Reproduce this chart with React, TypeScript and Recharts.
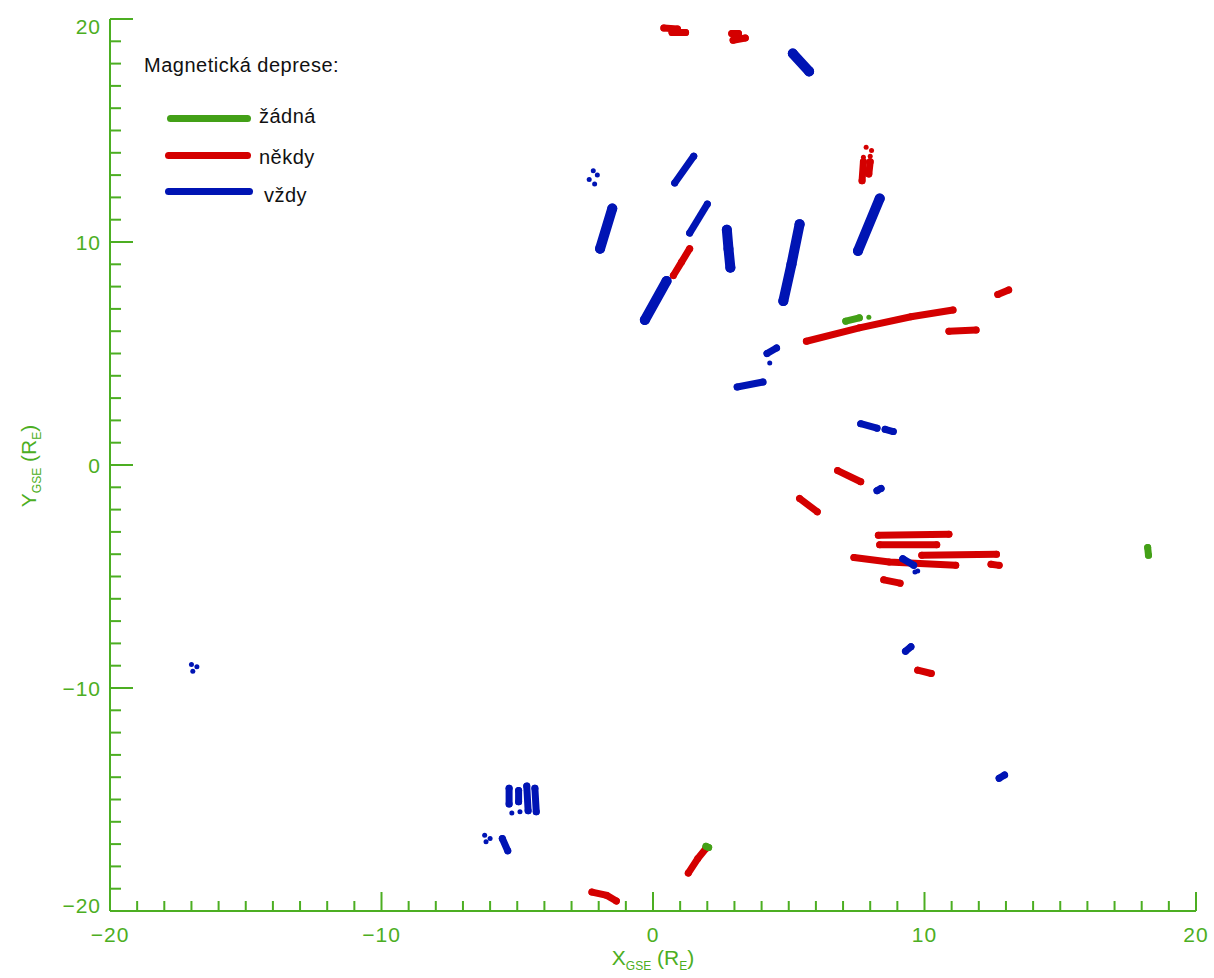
import React from "react";
import { ComposedChart, Scatter, XAxis, YAxis, Legend } from "recharts";

// tracks are lists of [x, y] points in R_E
const zadnaTracks = [
  [[7.1, 6.45], [7.6, 6.6]],
  [[18.22, -3.7], [18.25, -4.05]],
  [[1.95, -17.1], [2.05, -17.15]],
];
const zadnaDots = [[7.95, 6.62]];

const nekdyTracks = [
  [[0.4, 19.6], [0.9, 19.55]],
  [[0.7, 19.4], [1.2, 19.4]],
  [[2.9, 19.35], [3.15, 19.35]],
  [[2.95, 19.05], [3.4, 19.15]],
  [[7.75, 13.6], [7.7, 12.75]],
  [[8.0, 13.6], [7.95, 13.05]],
  [[0.75, 8.5], [1.05, 9.1], [1.35, 9.7]],
  [[12.7, 7.65], [13.1, 7.85]],
  [[5.65, 5.55], [7.6, 6.15], [9.5, 6.65], [11.05, 6.95]],
  [[10.9, 6.0], [11.9, 6.05]],
  [[6.8, -0.25], [7.65, -0.75]],
  [[5.4, -1.5], [6.05, -2.1]],
  [[8.3, -3.15], [10.9, -3.1]],
  [[8.35, -3.58], [10.45, -3.58]],
  [[9.9, -4.05], [12.65, -4.0]],
  [[7.4, -4.15], [8.7, -4.35], [11.15, -4.5]],
  [[12.45, -4.45], [12.75, -4.5]],
  [[8.5, -5.15], [9.1, -5.3]],
  [[9.75, -9.2], [10.25, -9.35]],
  [[1.3, -18.3], [1.65, -17.65], [1.95, -17.2]],
  [[-2.25, -19.15], [-1.7, -19.3], [-1.35, -19.55]],
];
const nekdyDots = [[7.85, 14.25], [8.05, 14.1], [7.75, 13.8], [8.0, 13.85]];

const vzdyBands = [
  [[5.15, 18.45], [5.75, 17.65]],
  [[-1.95, 9.7], [-1.5, 11.5]],
  [[2.72, 10.55], [2.78, 9.7], [2.85, 8.85]],
  [[4.8, 7.35], [5.1, 9.0], [5.4, 10.8]],
  [[7.55, 9.6], [8.35, 11.95]],
  [[-0.3, 6.5], [0.5, 8.25]],
];
const vzdyTracks = [
  [[0.8, 12.65], [1.5, 13.85]],
  [[1.35, 10.4], [2.0, 11.7]],
  [[4.2, 5.0], [4.55, 5.25]],
  [[3.1, 3.5], [4.05, 3.72]],
  [[7.65, 1.85], [8.25, 1.65]],
  [[8.55, 1.6], [8.85, 1.5]],
  [[8.25, -1.15], [8.4, -1.05]],
  [[9.2, -4.2], [9.6, -4.5]],
  [[9.3, -8.35], [9.5, -8.15]],
  [[12.75, -14.05], [12.95, -13.9]],
  [[-5.3, -14.5], [-5.3, -15.2]],
  [[-4.95, -14.6], [-4.95, -15.1]],
  [[-4.65, -14.4], [-4.6, -15.5]],
  [[-4.35, -14.5], [-4.3, -15.55]],
  [[-5.55, -16.75], [-5.35, -17.3]],
];
const vzdyDots = [
  [-2.2, 13.2], [-2.05, 13.0], [-2.35, 12.8], [-2.15, 12.6],
  [4.3, 4.57],
  [-17.0, -8.95], [-16.8, -9.05], [-16.95, -9.25],
  [-5.2, -15.6], [-4.9, -15.55],
  [-6.2, -16.6], [-6.0, -16.75], [-6.15, -16.9],
  [9.75, -4.75], [9.65, -4.8],
];

const majorTicks = [-20, -10, 0, 10, 20];
const allTicks = Array.from({ length: 41 }, (_, i) => i - 20);
const legendLabels = ["žádná", "někdy", "vždy"];

const AXIS = "#4cae22";
const GREEN = "#43a017";
const RED = "#d40000";
const BLUE = "#0014b4";
const FONT = "'Liberation Sans', Arial, sans-serif";

const toPts = (t: number[][]) => t.map(([x, y]) => ({ x, y }));
const fmt = (v: number) => (v < 0 ? `\u2212${-v}` : `${v}`);
const isMajor = (v: number) => majorTicks.includes(v);

const dot = (color: string, r: number) => (p: any) =>
  <circle cx={p.cx} cy={p.cy} r={r} fill={color} />;

const labelStyle = { fontFamily: FONT, fontSize: 21, fill: AXIS, letterSpacing: 1 };

const BottomTick = ({ x, y, payload }: any) => {
  const v = payload.value;
  return (
    <g>
      <line x1={x} x2={x} y1={y} y2={y - (isMajor(v) ? 19 : 10)} stroke={AXIS} strokeWidth={2} />
      {isMajor(v) && (
        <text x={x} y={y + 31} textAnchor="middle" {...labelStyle}>{fmt(v)}</text>
      )}
    </g>
  );
};

const TopTick = ({ x, y, payload }: any) => (
  <line x1={x} x2={x} y1={y} y2={y + (isMajor(payload.value) ? 19 : 11)} stroke={AXIS} strokeWidth={2} />
);

const LeftTick = ({ x, y, payload }: any) => {
  const v = payload.value;
  const shift = v === 20 ? 7 : v === -20 ? -6 : 0;
  return (
    <g>
      <line x1={x} x2={x + (isMajor(v) ? 23 : 11)} y1={y} y2={y} stroke={AXIS} strokeWidth={2} />
      {isMajor(v) && (
        <text x={x - 9} y={y + 8 + shift} textAnchor="end" {...labelStyle}>{fmt(v)}</text>
      )}
    </g>
  );
};

const RightTick = ({ x, y, payload }: any) => (
  <line x1={x} x2={x - (isMajor(payload.value) ? 22 : 10)} y1={y} y2={y} stroke={AXIS} strokeWidth={2} />
);

const XTitle = ({ viewBox }: any) => (
  <text x={viewBox.x + viewBox.width / 2} y={viewBox.y + 54} textAnchor="middle" fontFamily={FONT} fontSize={21} fill={AXIS}>
    X<tspan fontSize={12} dy={5}>GSE</tspan>
    <tspan dy={-5}> (R</tspan>
    <tspan fontSize={12} dy={5}>E</tspan>
    <tspan dy={-5}>)</tspan>
  </text>
);

const YTitle = ({ viewBox }: any) => {
  const cx = 36;
  const cy = viewBox.y + viewBox.height / 2 + 1;
  return (
    <text x={cx} y={cy} transform={`rotate(-90 ${cx} ${cy})`} textAnchor="middle" fontFamily={FONT} fontSize={21} fill={AXIS}>
      Y<tspan fontSize={12} dy={5}>GSE</tspan>
      <tspan dy={-5}> (R</tspan>
      <tspan fontSize={12} dy={5}>E</tspan>
      <tspan dy={-5}>)</tspan>
    </text>
  );
};

const legendColors = [GREEN, RED, BLUE];
const legendRows = [
  { lineY: 118, left: 167, right: 251, textTop: 106, textLeft: 259 },
  { lineY: 155, left: 165, right: 251, textTop: 147, textLeft: 259 },
  { lineY: 191, left: 165, right: 253, textTop: 185, textLeft: 264 },
];

const renderLegend = () => (
  <div style={{ position: "relative", width: 360, height: 215, fontFamily: FONT, color: "#111", fontSize: 20, letterSpacing: 0.5, lineHeight: "20px" }}>
    <div style={{ position: "absolute", left: 144, top: 55, whiteSpace: "nowrap" }}>Magnetická deprese:</div>
    {legendLabels.map((lab, i) => {
      const r = legendRows[i];
      return (
        <React.Fragment key={lab}>
          <div style={{ position: "absolute", left: r.left, top: r.lineY - 3.5, width: r.right - r.left, height: 7, borderRadius: 4, background: legendColors[i] }} />
          <div style={{ position: "absolute", left: r.textLeft, top: r.textTop, whiteSpace: "nowrap" }}>{lab}</div>
        </React.Fragment>
      );
    })}
  </div>
);

export default function App() {
  return (
    <div style={{ position: "absolute", left: 0, top: 0, background: "#fff" }}>
      <ComposedChart width={1214} height={978} margin={{ top: 19, right: 18, left: 0, bottom: 0 }}>
        <XAxis
          dataKey="x" type="number" domain={[-20, 20]} ticks={allTicks} interval={0}
          allowDataOverflow height={67} tickSize={0} tickMargin={0} tickLine={false}
          axisLine={{ stroke: AXIS, strokeWidth: 2 }} tick={<BottomTick />}
          label={{ content: <XTitle /> } as any}
        />
        <XAxis
          xAxisId="top" orientation="top" type="number" domain={[-20, 20]} ticks={allTicks}
          interval={0} height={0} tickSize={0} tickMargin={0} tickLine={false}
          axisLine={{ stroke: AXIS, strokeWidth: 2 }} tick={<TopTick />}
        />
        <YAxis
          dataKey="y" type="number" domain={[-20, 20]} ticks={allTicks} interval={0}
          allowDataOverflow width={110} tickSize={0} tickMargin={0} tickLine={false}
          axisLine={{ stroke: AXIS, strokeWidth: 2 }} tick={<LeftTick />}
          label={{ content: <YTitle /> } as any}
        />
        <YAxis
          yAxisId="right" orientation="right" type="number" domain={[-20, 20]} ticks={allTicks}
          interval={0} width={0} tickSize={0} tickMargin={0} tickLine={false}
          axisLine={{ stroke: AXIS, strokeWidth: 2 }} tick={<RightTick />}
        />
        <Legend
          layout="vertical" align="center" verticalAlign="middle"
          wrapperStyle={{ left: 0, top: 0, width: 360, height: 215 }}
          content={renderLegend}
        />
        {nekdyTracks.map((t, i) => (
          <Scatter key={`r${i}`} data={toPts(t)} fill={RED} line={{ strokeWidth: 7, strokeLinecap: "round" }}
            lineType="joint" shape={dot(RED, 3.5)} isAnimationActive={false} />
        ))}
        <Scatter data={toPts(nekdyDots)} fill={RED} shape={dot(RED, 2.5)} isAnimationActive={false} />
        {vzdyBands.map((t, i) => (
          <Scatter key={`bb${i}`} data={toPts(t)} fill={BLUE} line={{ strokeWidth: 10, strokeLinecap: "round" }}
            lineType="joint" shape={dot(BLUE, 5)} isAnimationActive={false} />
        ))}
        {vzdyTracks.map((t, i) => (
          <Scatter key={`b${i}`} data={toPts(t)} fill={BLUE} line={{ strokeWidth: 7, strokeLinecap: "round" }}
            lineType="joint" shape={dot(BLUE, 3.5)} isAnimationActive={false} />
        ))}
        <Scatter data={toPts(vzdyDots)} fill={BLUE} shape={dot(BLUE, 2.5)} isAnimationActive={false} />
        {zadnaTracks.map((t, i) => (
          <Scatter key={`g${i}`} data={toPts(t)} fill={GREEN} line={{ strokeWidth: 7, strokeLinecap: "round" }}
            lineType="joint" shape={dot(GREEN, 3.5)} isAnimationActive={false} />
        ))}
        <Scatter data={toPts(zadnaDots)} fill={GREEN} shape={dot(GREEN, 2.5)} isAnimationActive={false} />
      </ComposedChart>
    </div>
  );
}
